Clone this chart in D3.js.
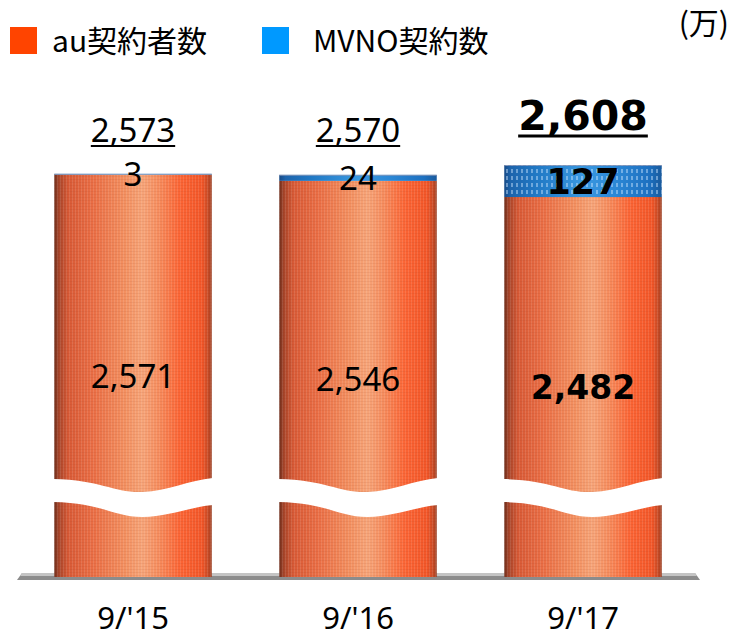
<!DOCTYPE html>
<html><head><meta charset="utf-8">
<script src="https://cdn.jsdelivr.net/npm/d3@7"></script>
<style>
html,body{margin:0;padding:0;background:#fff;}
svg{display:block;}
</style></head>
<body>
<svg id="chart" width="731" height="638"></svg>
<script>
// ---- data ----
const categories = ["9/'15", "9/'16", "9/'17"];
const auValues   = [2571, 2546, 2482];
const mvnoValues = [3, 24, 127];
const totals     = [2573, 2570, 2608];
const boldIndex  = 2; // latest period emphasised
const legendLabels = ["au契約者数", "MVNO契約数"];
const unitLabel = "(万)";

// ---- layout ----
const W = 731, H = 638;
const baseY = 577, topY = 165;
const svg = d3.select("#chart");
const defs = svg.append("defs");

const x = d3.scaleBand().domain(categories).range([20.5, 695.5])
  .paddingInner(0.3).paddingOuter(0.15);
const y = d3.scaleLinear().domain([975, 2609]).range([baseY, topY]);

// gradients
function hGrad(id, stops) {
  const g = defs.append("linearGradient").attr("id", id)
    .attr("x1", "0%").attr("x2", "100%").attr("y1", "0%").attr("y2", "0%");
  stops.forEach(s => g.append("stop").attr("offset", s[0]).attr("stop-color", s[1]));
}
hGrad("gOrange", [
  ["0%", "#6e2e1c"], ["3%", "#a8452a"], ["9%", "#d85a36"], ["25%", "#ea6e45"],
  ["45%", "#f39060"], ["56%", "#f6a478"], ["66%", "#f68d5e"], ["80%", "#fb6434"],
  ["94%", "#f25628"], ["98%", "#c44a26"], ["100%", "#9a3e22"]
]);
hGrad("gBlue", [
  ["0%", "#174a86"], ["4%", "#1d64ac"], ["20%", "#2078c4"], ["50%", "#3a98e0"],
  ["70%", "#2c88d6"], ["92%", "#1d70c0"], ["100%", "#1a5a9c"]
]);
// texture patterns
const pt = defs.append("pattern").attr("id", "tex").attr("patternUnits", "userSpaceOnUse")
  .attr("width", 3).attr("height", 3);
pt.append("rect").attr("width", 1).attr("height", 3).attr("fill", "#fff").attr("opacity", 0.11);
pt.append("rect").attr("y", 2).attr("width", 3).attr("height", 1).attr("fill", "#7a2a10").attr("opacity", 0.08);
const pb = defs.append("pattern").attr("id", "texB").attr("patternUnits", "userSpaceOnUse")
  .attr("width", 5).attr("height", 7);
pb.append("rect").attr("x", 1).attr("y", 1).attr("width", 2).attr("height", 4).attr("fill", "#cfe8ff").attr("opacity", 0.45);

// ---- floor ----
svg.append("path")
  .attr("d", `M22,573 L695,573 L700,580 L17,580 Z`)
  .attr("fill", "#8c8c8c");
svg.append("path")
  .attr("d", `M22,573 L695,573 L697,576 L20,576 Z`)
  .attr("fill", "#c4c4c4");

// ---- bars ----
const data = categories.map((c, i) => ({c, au: auValues[i], mv: mvnoValues[i], total: totals[i], i}));
const bw = x.bandwidth();

const g = svg.append("g");
data.forEach(d => {
  const x0 = x(d.c), x1 = x0 + bw;
  const auTop = y(d.au), mvTop = y(d.au + d.mv);
  g.append("rect").attr("x", x0).attr("y", auTop).attr("width", bw).attr("height", baseY - auTop)
    .attr("fill", "url(#gOrange)");
  g.append("rect").attr("x", x0).attr("y", auTop).attr("width", bw).attr("height", baseY - auTop)
    .attr("fill", "url(#tex)");
  g.append("rect").attr("x", x0).attr("y", mvTop).attr("width", bw).attr("height", auTop - mvTop)
    .attr("fill", "url(#gBlue)");
  if (auTop - mvTop > 10) {
    g.append("rect").attr("x", x0).attr("y", mvTop).attr("width", bw).attr("height", auTop - mvTop)
      .attr("fill", "url(#texB)");
  }
  g.append("line").attr("x1", x0).attr("x2", x1).attr("y1", mvTop + 0.5).attr("y2", mvTop + 0.5)
    .attr("stroke", "#8f9ab8").attr("stroke-width", 1).attr("opacity", 0.8);
  const w = bw;
  const p = `M${x0 - 1},479 C${x0 + 0.3 * w},480 ${x0 + 0.38 * w},493 ${x0 + 0.56 * w},492 ` +
    `C${x0 + 0.72 * w},491 ${x0 + 0.86 * w},480 ${x1 + 1},478 L${x1 + 1},505 ` +
    `C${x0 + 0.86 * w},507 ${x0 + 0.72 * w},517 ${x0 + 0.56 * w},517 ` +
    `C${x0 + 0.38 * w},517 ${x0 + 0.3 * w},503 ${x0 - 1},502 Z`;
  g.append("path").attr("d", p).attr("fill", "#fff");
});

// ---- labels ----
const fontReg = "'Noto Sans', 'DejaVu Sans', sans-serif";
const fontBold = "'DejaVu Sans', 'Noto Sans', sans-serif";
data.forEach(d => {
  const cx = x(d.c) + bw / 2;
  const bold = d.i === boldIndex;
  const auTop = y(d.au), mvTop = y(d.au + d.mv);
  const fs = bold ? 41 : 33;
  const tb = bold ? 130 : 142;
  const t = svg.append("text").attr("x", cx).attr("y", tb).attr("text-anchor", "middle")
    .attr("font-family", bold ? fontBold : fontReg).attr("font-weight", bold ? "bold" : "normal")
    .attr("font-size", fs).attr("fill", "#000").text(d3.format(",")(d.total));
  const tw = t.node().getComputedTextLength();
  svg.append("line").attr("x1", cx - tw / 2).attr("x2", cx + tw / 2)
    .attr("y1", bold ? 136 : 146).attr("y2", bold ? 136 : 146)
    .attr("stroke", "#000").attr("stroke-width", bold ? 3 : 2);
  const mfs = bold ? 35 : 33;
  const mid = (auTop + mvTop) / 2;
  svg.append("text").attr("x", cx).attr("y", mid + 0.37 * mfs)
    .attr("text-anchor", "middle")
    .attr("font-family", bold ? fontBold : fontReg).attr("font-weight", bold ? "bold" : "normal")
    .attr("font-size", mfs).attr("fill", "#000").text(d3.format(",")(d.mv));
  const afs = bold ? 33 : 33;
  const amid = (auTop + baseY) / 2;
  svg.append("text").attr("x", cx).attr("y", amid + 0.36 * afs)
    .attr("text-anchor", "middle")
    .attr("font-family", bold ? fontBold : fontReg).attr("font-weight", bold ? "bold" : "normal")
    .attr("font-size", afs).attr("fill", "#000").text(d3.format(",")(d.au));
});

// category axis
const axis = svg.append("g").attr("transform", `translate(0,${baseY})`)
  .call(d3.axisBottom(x).tickSize(0).tickPadding(0));
axis.select(".domain").remove();
axis.selectAll("text").attr("y", 52).attr("dy", 0)
  .attr("font-family", fontReg).attr("font-size", 31).attr("fill", "#000");

// legend
const legColors = ["#ff4400", "#0099ff"];
const legX = [10, 262];
const cjk = "'Noto Sans CJK JP', 'Noto Sans', sans-serif";
legendLabels.forEach((l, i) => {
  svg.append("rect").attr("x", legX[i]).attr("y", 27).attr("width", 27).attr("height", 27)
    .attr("fill", legColors[i]);
  svg.append("text").attr("x", legX[i] + (i === 0 ? 42 : 51)).attr("y", 52)
    .attr("font-family", cjk).attr("font-size", 30).attr("fill", "#000").text(l);
});
svg.append("text").attr("x", 729).attr("y", 34).attr("text-anchor", "end")
  .attr("font-family", cjk).attr("font-size", 30).attr("fill", "#000").text(unitLabel);
</script>
</body></html>
